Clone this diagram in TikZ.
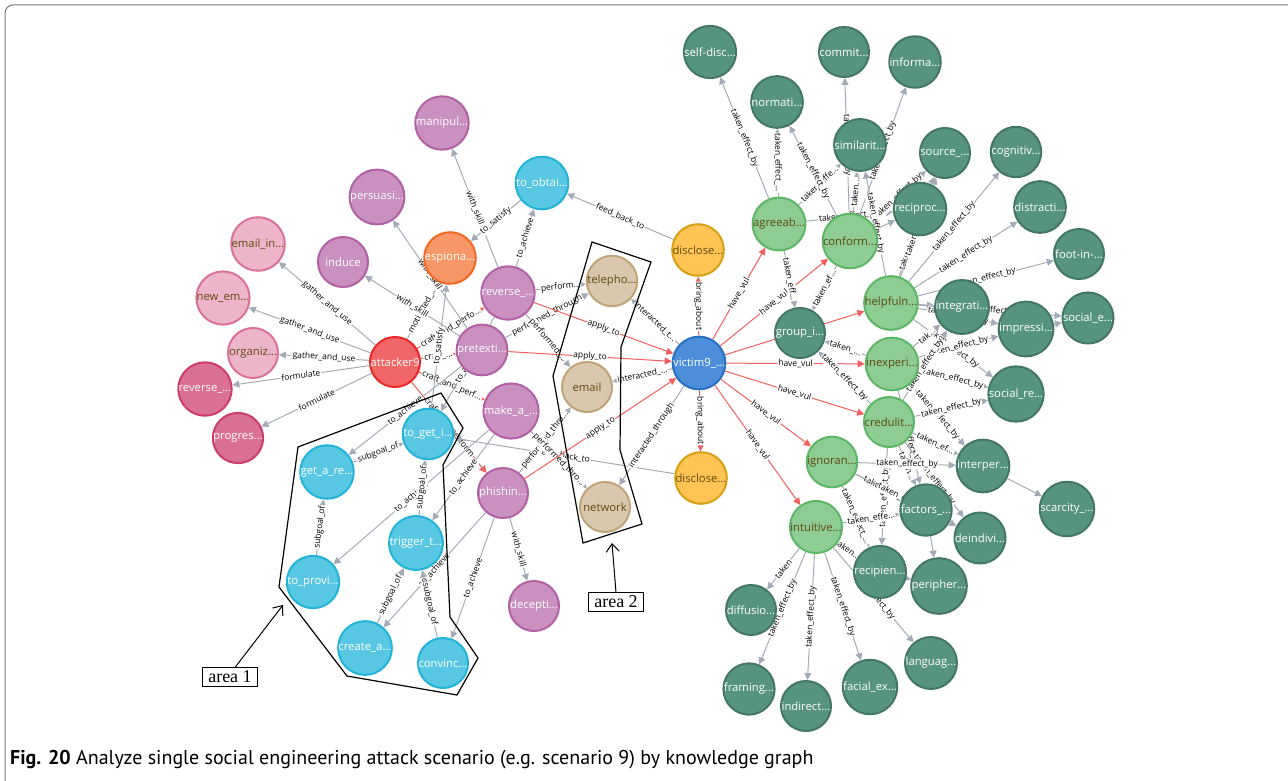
\documentclass[tikz,border=0pt]{standalone}
\usepackage{fontspec}
\setmainfont{Open Sans}
\newfontfamily\capfont{PT Sans}
\newfontfamily\annfont{Liberation Serif}
\usetikzlibrary{arrows.meta}

% node palette (fill / border)
\definecolor{purF}{HTML}{C990C0}\definecolor{purD}{HTML}{B261A5}
\definecolor{oraF}{HTML}{F79767}\definecolor{oraD}{HTML}{F36924}
\definecolor{cyaF}{HTML}{57C7E3}\definecolor{cyaD}{HTML}{23B3D7}
\definecolor{redF}{HTML}{F16667}\definecolor{redD}{HTML}{EB2728}
\definecolor{tanF}{HTML}{D9C8AE}\definecolor{tanD}{HTML}{C0A378}
\definecolor{lgrF}{HTML}{8DCC93}\definecolor{lgrD}{HTML}{5DB665}
\definecolor{lpkF}{HTML}{ECB5C9}\definecolor{lpkD}{HTML}{DA7298}
\definecolor{bluF}{HTML}{4C8EDA}\definecolor{bluD}{HTML}{2870C2}
\definecolor{yelF}{HTML}{FFC454}\definecolor{yelD}{HTML}{D7A013}
\definecolor{dpkF}{HTML}{DA7194}\definecolor{dpkD}{HTML}{CC3C6C}
\definecolor{dgrF}{HTML}{569480}\definecolor{dgrD}{HTML}{447666}
\definecolor{darktext}{HTML}{604A0E}
\definecolor{edgegray}{HTML}{A5ABB6}
\definecolor{edgered}{HTML}{F25F5F}
\definecolor{framecol}{HTML}{7A7A7A}

\pgfdeclarelayer{edgelayer}
\pgfsetlayers{edgelayer,main}

\tikzset{
  gnode/.style={circle, minimum size=50pt, inner sep=0pt, line width=2pt,
                font=\fontsize{11.3}{13}\selectfont},
  purp/.style={gnode, fill=purF, draw=purD, text=white},
  oran/.style={gnode, fill=oraF, draw=oraD, text=white},
  cyan/.style={gnode, fill=cyaF, draw=cyaD, text=white},
  redn/.style={gnode, fill=redF, draw=redD, text=white},
  tann/.style={gnode, fill=tanF, draw=tanD, text=darktext},
  lgrn/.style={gnode, fill=lgrF, draw=lgrD, text=darktext},
  lpnk/.style={gnode, fill=lpkF, draw=lpkD, text=darktext},
  blun/.style={gnode, fill=bluF, draw=bluD, text=white},
  yeln/.style={gnode, fill=yelF, draw=yelD, text=darktext},
  dpnk/.style={gnode, fill=dpkF, draw=dpkD, text=white},
  dgrn/.style={gnode, fill=dgrF, draw=dgrD, text=white},
  rel/.style={draw=edgegray, line width=1pt, -{Triangle[length=7pt,width=7pt]}},
  hot/.style={draw=edgered},
  elab/.style={midway, sloped, fill=white, inner sep=0.8pt, text=black,
               font=\fontsize{8.5}{9.5}\selectfont},
  region/.style={draw=black, line width=1.2pt, line join=miter},
  areabox/.style={draw=black, line width=1pt, fill=white, inner xsep=6pt, inner ysep=3pt,
                  font=\annfont\fontsize{18}{20}\selectfont},
  areaarrow/.style={draw=black, line width=1pt, -{Straight Barb[length=8pt,width=13pt]}},
}

\newcommand{\linkto}[4][]{\draw[rel,#1] (#2) -- node[elab] {#3} (#4);}
\newcommand{\linkbare}[3][]{\draw[rel,#1] (#2) -- (#3);}

\begin{document}
\begin{tikzpicture}[x=1pt,y=-1pt]
\useasboundingbox (0,0) rectangle (1288,781);

% ---------- attacker side ----------
\node[purp] (manip)   at (442,123) {manipul...};
\node[purp] (persu)   at (377,197) {persuasi...};
\node[lpnk] (emailin) at (258,244) {email\_in...};
\node[purp] (induce)  at (343,262) {induce};
\node[oran] (espio)   at (450,258) {espiona...};
\node[lpnk] (newem)   at (223,298) {new\_em...};
\node[lpnk] (organiz) at (253,353) {organiz...};
\node[redn] (att)     at (395,362) {attacker9};
\node[dpnk] (revp)    at (205,389) {reverse\_...};
\node[dpnk] (progr)   at (238,438) {progres...};
\node[purp] (pretx)   at (482,350) {pretexti...};
\node[purp] (reveng)  at (508,293) {reverse\_...};
\node[purp] (make)    at (511,411) {make\_a\_...};
\node[purp] (phish)   at (503,493) {phishin...};
\node[purp] (decep)   at (534,606) {decepti...};

\node[cyan] (obtain)  at (542,183) {to\_obtai...};
\node[cyan] (toget)   at (428,434) {to\_get\_i...};
\node[cyan] (geta)    at (327,472) {get\_a\_re...};
\node[cyan] (trig)    at (416,543) {trigger\_t...};
\node[cyan] (prov)    at (313,582) {to\_provi...};
\node[cyan] (create)  at (365,648) {create\_a...};
\node[cyan] (convin)  at (443,663) {convinc...};

\node[tann] (tel)     at (612,281) {telepho...};
\node[tann] (email)   at (587,387) {email};
\node[tann] (net)     at (605,507) {network};

\node[yeln] (disA)    at (698,250) {disclose...};
\node[yeln] (disB)    at (701,478) {disclose...};
\node[blun] (vic)     at (699,363) {victim9\_...};

% ---------- vulnerability side ----------
\node[lgrn] (agree)   at (779,224) {agreeab...};
\node[lgrn] (conf)    at (850,241) {conform...};
\node[lgrn] (help)    at (891,303) {helpfuln...};
\node[lgrn] (inexp)   at (892,364) {inexperi...};
\node[lgrn] (cred)    at (889,422) {credulit...};
\node[lgrn] (ignor)   at (832,462) {ignoran...};
\node[lgrn] (intui)   at (816,527) {intuitive...};

\node[dgrn] (group)   at (800,333) {group\_i...};
\node[dgrn] (selfd)   at (710,52)  {self-disc...};
\node[dgrn] (norm)    at (777,102) {normati...};
\node[dgrn] (commit)  at (844,52)  {commit...};
\node[dgrn] (inform)  at (915,62)  {informa...};
\node[dgrn] (simil)   at (860,145) {similarit...};
\node[dgrn] (recip)   at (920,209) {reciproc...};
\node[dgrn] (source)  at (945,153) {source\_...};
\node[dgrn] (cogn)    at (1016,152) {cognitiv...};
\node[dgrn] (distr)   at (1040,207) {distracti...};
\node[dgrn] (foot)    at (1079,254) {foot-in-...};
\node[dgrn] (integ)   at (962,307) {integrati...};
\node[dgrn] (soce)    at (1088,318) {social\_e...};
\node[dgrn] (impr)    at (1026,329) {impressi...};
\node[dgrn] (socr)    at (1016,394) {social\_re...};
\node[dgrn] (inter)   at (983,466) {interper...};
\node[dgrn] (scarc)   at (1067,509) {scarcity\_...};
\node[dgrn] (factor)  at (926,510) {factors\_...};
\node[dgrn] (deind)   at (980,538) {deindivi...};
\node[dgrn] (recipi)  at (880,572) {recipien...};
\node[dgrn] (periph)  at (939,586) {peripher...};
\node[dgrn] (diffu)   at (751,610) {diffusio...};
\node[dgrn] (fram)    at (749,689) {framing...};
\node[dgrn] (indir)   at (806,706) {indirect...};
\node[dgrn] (facial)  at (870,687) {facial\_ex...};
\node[dgrn] (lang)    at (931,663) {languag...};

% ---------- relationships (kept under the nodes) ----------
\begin{pgfonlayer}{edgelayer}
\fill[white] (0,0) rectangle (1288,781);
\draw[framecol, line width=1pt, rounded corners=8pt] (5,840) -- (5,5) -- (1340,5);
\linkto{att}{gather\_and\_use}{emailin}
\linkto{att}{gather\_and\_use}{newem}
\linkto{att}{gather\_and\_use}{organiz}
\linkto{att}{formulate}{revp}
\linkto{att}{formulate}{progr}
\linkto{att}{motivated\_...}{espio}
\linkto[hot]{att}{craft\_and\_perfo...}{reveng}
\linkto[hot]{att}{craft\_...}{pretx}
\linkto[hot]{att}{craft\_and\_perf...}{make}
\linkto[hot]{att}{craft\_and\_perform}{phish}
\linkto{pretx}{with\_skill}{persu}
\linkto{pretx}{with\_skill}{induce}
\linkto{reveng}{with\_skill}{manip}
\linkto{toget}{to\_satisfy}{espio}
\linkto{obtain}{to\_satisfy}{espio}
\linkto{reveng}{to\_achieve}{obtain}
\linkto{reveng}{to\_achieve}{toget}
\linkto{pretx}{to\_achieve}{geta}
\linkto{make}{to\_achieve}{trig}
\linkto{make}{to\_achieve}{prov}
\linkto{phish}{to\_achieve}{create}
\linkto{phish}{to\_achieve}{convin}
\linkto{phish}{with\_skill}{decep}
\linkto{geta}{subgoal\_of}{toget}
\linkto{prov}{subgoal\_of}{geta}
\linkto{trig}{subgoal\_of}{toget}
\linkto{create}{subgoal\_of}{trig}
\linkto{convin}{subgoal\_of}{trig}
\linkto{disA}{feed\_back\_to}{obtain}
\linkto{disB}{feed\_back\_to}{toget}
\linkto{reveng}{perform...}{tel}
\linkto{pretx}{performed\_through}{tel}
\linkto{reveng}{performed\_...}{email}
\linkto{phish}{performed\_thro...}{email}
\linkto{make}{performed\_thro...}{net}
\linkto[hot]{reveng}{apply\_to}{vic}
\linkto[hot]{pretx}{apply\_to}{vic}
\linkto[hot]{phish}{apply\_to}{vic}
\linkto{vic}{interacted\_t...}{tel}
\linkto{vic}{interacted\_...}{email}
\linkto{vic}{interacted\_through}{net}
\linkto[hot]{vic}{bring\_about}{disA}
\linkto[hot]{vic}{bring\_about}{disB}

\linkto[hot]{vic}{have\_vul}{agree}
\linkto[hot]{vic}{have\_vul}{conf}
\linkto[hot]{vic}{have\_vul}{help}
\linkto[hot]{vic}{have\_vul}{inexp}
\linkto[hot]{vic}{have\_vul}{cred}
\linkto[hot]{vic}{have\_vul}{ignor}
\linkto[hot]{vic}{have\_vul}{intui}

\linkto{agree}{taken\_effect\_by}{selfd}
\linkto{agree}{taken\_effect\_...}{norm}
\linkto{agree}{taken\_effe...}{simil}
\linkto{agree}{taken\_eff...}{group}
\linkto{agree}{taken\_effect\_by}{recip}
\linkto{conf}{taken\_effect\_by}{norm}
\linkto{conf}{taken\_effect\_by}{commit}
\linkto{conf}{taken\_effect\_by}{inform}
\linkto{conf}{taken...}{simil}
\linkbare{conf}{recip}
\linkto{conf}{taken\_effect\_by}{source}
\linkto{conf}{taken\_ef...}{group}
\linkto{help}{taken\_effect\_by}{simil}
\linkto{help}{taken...}{recip}
\linkto{help}{taken\_effect\_by}{source}
\linkto{help}{taken\_effect\_by}{cogn}
\linkto{help}{taken\_effect\_by}{distr}
\linkto{help}{taken\_effect\_by}{foot}
\linkbare{help}{integ}
\linkto{help}{taken\_effect\_by}{impr}
\linkto{help}{taken\_effect\_by}{socr}
\linkto{help}{taken\_effect\_by}{soce}
\linkto{inexp}{taken\_...}{group}
\linkto{inexp}{tak...}{integ}
\linkto{inexp}{taken\_effect\_by}{impr}
\linkto{inexp}{taken\_effect\_by}{socr}
\linkto{inexp}{taken\_effect\_by}{inter}
\linkto{inexp}{taken\_effect\_by}{factor}
\linkto{cred}{taken\_effect\_by}{group}
\linkto{cred}{taken\_effect\_by}{socr}
\linkto{cred}{taken\_ef...}{inter}
\linkto{cred}{taken...}{factor}
\linkto{cred}{taken\_effect\_by}{deind}
\linkto{cred}{taken\_effect\_by}{recipi}
\linkto{cred}{taken\_effect\_by}{integ}
\linkbare{impr}{soce}
\linkbare{inter}{scarc}
\linkto{ignor}{taken\_effect\_by}{inter}
\linkto{ignor}{taken\_...}{factor}
\linkto{ignor}{taken\_effect\_...}{recipi}
\linkto{ignor}{taken\_effect\_by}{deind}
\linkto{intui}{taken\_effe...}{factor}
\linkto{intui}{taken...}{recipi}
\linkto{intui}{taken}{diffu}
\linkto{intui}{taken\_effect\_by}{fram}
\linkto{intui}{taken\_effect\_by}{indir}
\linkto{intui}{taken\_effect\_by}{facial}
\linkto{intui}{taken\_effect\_by}{lang}
\linkbare{recipi}{periph}
\linkbare{factor}{periph}
\linkbare{recip}{source}
\end{pgfonlayer}

% ---------- highlighted regions ----------
\draw[region] (298,447) -- (441,393) -- (463,428) -- (443,465) -- (450,617)
  -- (478,658) -- (457,695) -- (347,676) -- (279,587) -- cycle;
\draw[region] (592,242) -- (651,262) -- (621,347) -- (620,450) -- (642,524)
  -- (583,543) -- (553,376) -- cycle;

\node[areabox] (areaA) at (230,677) {area 1};
\node[areabox] (areaB) at (616,602) {area 2};
\coordinate (tipA) at (283,605);
\coordinate (tipB) at (612,543);
\draw[areaarrow] ([xshift=5pt]areaA.north) -- (tipA);
\draw[areaarrow] (areaB.north) -- (tipB);

% ---------- caption ----------
\node[anchor=base west, inner sep=0pt, font=\capfont\fontsize{20}{24}\selectfont] (cap)
  at (10,764) {\textbf{Fig. 20} Analyze single social engineering attack scenario (e.g. scenario 9) by knowledge graph};
\end{tikzpicture}
\end{document}
